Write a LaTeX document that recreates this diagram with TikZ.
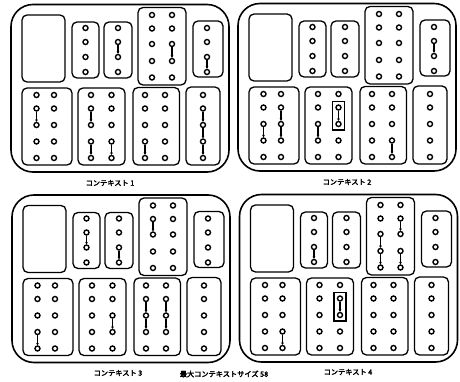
\documentclass[tikz,border=0pt]{standalone}
\usepackage{fontspec}
\newfontfamily\cjk[FakeBold=3]{Noto Sans CJK JP}
\usetikzlibrary{arrows.meta,fit}
\tikzset{
 outerbox/.style={draw, line width=1.6pt, rounded corners=22pt},
 innerbox/.style={draw, line width=1.3pt, rounded corners=5pt},
 pin/.style={circle, draw, line width=1.4pt, minimum size=5pt, inner sep=0pt},
 link/.style={line width=1.3pt, -{Stealth[length=2.4pt,width=2.8pt]}},
 hl/.style={draw, line width=1.5pt, inner sep=2.6pt},
 lbl/.style={font=\cjk\fontsize{7.2}{8}\selectfont, inner sep=0pt}
}
\newcommand\drawctx[1]{%
  \draw[outerbox] (11,4.5) rectangle (229,172);
  \draw[innerbox] (22,15) rectangle (65,82);
  \draw[innerbox] (72,22) rectangle (99,78);
  \draw[innerbox] (104,22) rectangle (132,78);
  \draw[innerbox] (138,7.5) rectangle (186,85);
  \draw[innerbox] (193,21) rectangle (223,77);
  \draw[innerbox] (22,88) rectangle (72,165);
  \draw[innerbox] (78,88) rectangle (125,165);
  \draw[innerbox] (133,87.5) rectangle (179.5,165);
  \draw[innerbox] (186,87) rectangle (220,165);
  \foreach \r/\y in {1/28,2/42,3/57,4/72}{
    \node[pin] (#1-b2-\r) at (85.5,\y) {};
    \node[pin] (#1-b3-\r) at (118,\y) {};
    \node[pin] (#1-b5-\r) at (207,\y) {};
  }
  \foreach \r/\y in {1/15,2/28.5,3/44,4/61,5/77.5}{
    \node[pin] (#1-b4L-\r) at (152,\y) {};
    \node[pin] (#1-b4R-\r) at (172,\y) {};
  }
  \foreach \r/\y in {1/95,2/108.5,3/125,4/141.5,5/158}{
    \node[pin] (#1-AL-\r) at (36.5,\y) {};
    \node[pin] (#1-AR-\r) at (54,\y) {};
    \node[pin] (#1-BL-\r) at (91,\y) {};
    \node[pin] (#1-BR-\r) at (111.5,\y) {};
    \node[pin] (#1-CL-\r) at (145,\y) {};
    \node[pin] (#1-CR-\r) at (165,\y) {};
    \node[pin] (#1-D-\r) at (203,\y) {};
  }
}
\newcommand\lnk[2]{\draw[link] (#1) -- (#2);}
\begin{document}
\begin{tikzpicture}[x=1pt,y=-1pt]
\fill[white] (0,0) rectangle (460,382);
\useasboundingbox (0,0) rectangle (460,382);
% context 1
\begin{scope}
\drawctx{a}
\lnk{a-b3-2}{a-b3-3}
\lnk{a-b4R-3}{a-b4R-4}
\lnk{a-b5-3}{a-b5-4}
\lnk{a-AL-2}{a-AL-3}
\lnk{a-BL-2}{a-BL-3}
\lnk{a-BL-4}{a-BL-5}
\lnk{a-BR-4}{a-BR-5}
\lnk{a-CL-4}{a-CL-5}
\lnk{a-D-2}{a-D-3}
\lnk{a-D-3}{a-D-4}
\lnk{a-D-4}{a-D-5}
\end{scope}
% context 2
\begin{scope}[shift={(227,-1)}]
\drawctx{b}
\lnk{b-b5-2}{b-b5-3}
\lnk{b-AL-3}{b-AL-4}
\lnk{b-AR-2}{b-AR-3}
\lnk{b-AR-3}{b-AR-4}
\lnk{b-BL-3}{b-BL-4}
\lnk{b-BR-2}{b-BR-3}
\node[hl, fit=(b-BR-2)(b-BR-3)] (b-hl) {};
\lnk{b-CR-4}{b-CR-5}
\end{scope}
% context 3
\begin{scope}[shift={(1,190.5)}]
\drawctx{c}
\lnk{c-b2-2}{c-b2-3}
\lnk{c-b3-3}{c-b3-4}
\lnk{c-b4L-2}{c-b4L-3}
\lnk{c-AL-4}{c-AL-5}
\lnk{c-BR-3}{c-BR-4}
\lnk{c-CL-2}{c-CL-3}
\lnk{c-CL-3}{c-CL-4}
\lnk{c-CR-2}{c-CR-3}
\lnk{c-CR-3}{c-CR-4}
\end{scope}
% context 4
\begin{scope}[shift={(228.5,190)}]
\drawctx{d}
\lnk{d-b2-3}{d-b2-4}
\lnk{d-b4L-3}{d-b4L-4}
\lnk{d-b4L-4}{d-b4L-5}
\lnk{d-b4R-2}{d-b4R-3}
\lnk{d-b4R-4}{d-b4R-5}
\lnk{d-AR-4}{d-AR-5}
\lnk{d-BR-2}{d-BR-3}
\node[hl, fit=(d-BR-2)(d-BR-3)] (d-hl) {};
\end{scope}
% labels
\node[lbl] (l1) at (110,183) {コンテキスト 1};
\node[lbl] (l2) at (347,182) {コンテキスト 2};
\node[lbl] (l3) at (118,373) {コンテキスト 3};
\node[lbl] (lmax) at (224,374) {最大コンテキストサイズ 58};
\node[lbl] (l4) at (348,372) {コンテキスト 4};
\end{tikzpicture}
\end{document}
